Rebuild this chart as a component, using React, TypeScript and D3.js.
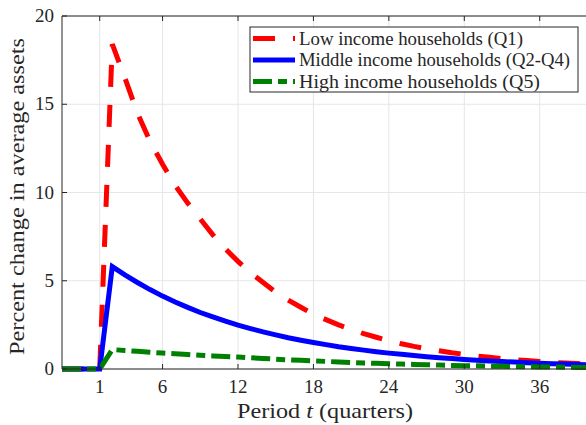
import React from "react";
import * as d3 from "d3";

// quarters -2 .. 40
const periods = d3.range(-2, 41);

const lowIncome = [
  0, 0, 0, 0,
  18.4, 16.5, 14.5, 12.9, 11.6, 10.4, 9.4, 8.5, 7.6, 6.8, 6.1,
  5.45, 4.9, 4.35, 3.9, 3.5, 3.1, 2.8, 2.5, 2.25, 2.0, 1.8, 1.6,
  1.43, 1.28, 1.15, 1.03, 0.92, 0.83, 0.74, 0.66, 0.59, 0.53, 0.48, 0.43,
  0.38, 0.34, 0.31, 0.28,
];

const middleIncome = [
  0, 0, 0, 0,
  5.8, 5.33, 4.9, 4.5, 4.13, 3.8, 3.49, 3.2, 2.95, 2.71, 2.49,
  2.29, 2.1, 1.93, 1.77, 1.63, 1.5, 1.38, 1.26, 1.16, 1.07, 0.98, 0.9,
  0.83, 0.76, 0.7, 0.64, 0.59, 0.54, 0.5, 0.46, 0.42, 0.39, 0.36, 0.33,
  0.3, 0.28, 0.25, 0.23,
];

const highIncome = [
  0, 0, 0, 0,
  1.1, 1.05, 1.0, 0.95, 0.9, 0.86, 0.82, 0.78, 0.74, 0.71, 0.68,
  0.64, 0.6, 0.56, 0.52, 0.49, 0.46, 0.43, 0.4, 0.37, 0.34, 0.32, 0.3,
  0.28, 0.26, 0.24, 0.22, 0.2, 0.19, 0.18, 0.16, 0.15, 0.14, 0.13, 0.12,
  0.11, 0.1, 0.09, 0.09,
];

const xTicks = [1, 6, 12, 18, 24, 30, 36];
const yTicks = [0, 5, 10, 15, 20];

const series = [
  { name: "Low income households (Q1)", values: lowIncome, color: "#ff0000", dash: "22 18", textW: 224 },
  { name: "Middle income households (Q2-Q4)", values: middleIncome, color: "#0000ff", dash: "none", textW: 271 },
  { name: "High income households (Q5)", values: highIncome, color: "#008000", dash: "19 6 9 6", textW: 241 },
];

const W = 586;
const H = 425;
const left = 62, right = 590, top = 16, bottom = 369;
const axisColor = "#262626";
const serif = { fontFamily: "Liberation Serif" };

export default function App() {
  const x = d3.scaleLinear().domain([-2, 40]).range([left, right]);
  const y = d3.scaleLinear().domain([0, 20]).range([bottom, top]);

  const line = (vals: number[]) =>
    d3.line<number>()
      .x((_, i) => x(periods[i]))
      .y(d => y(d))(vals) || "";

  return (
    <svg
      width={W}
      height={H}
      style={{ position: "absolute", left: 0, top: 0, background: "#fff" }}
    >
      <rect x={0} y={0} width={W} height={H} fill="#fff" />
      {/* grid */}
      {xTicks.map(t => (
        <line key={"gx" + t} x1={x(t)} x2={x(t)} y1={top} y2={bottom} stroke="#e6e6e6" strokeWidth={1} />
      ))}
      {yTicks.map(t => (
        <line key={"gy" + t} x1={left} x2={right} y1={y(t)} y2={y(t)} stroke="#e6e6e6" strokeWidth={1} />
      ))}

      {/* series */}
      {series.map(s => (
        <path
          key={s.name}
          d={line(s.values)}
          fill="none"
          stroke={s.color}
          strokeWidth={5}
          strokeDasharray={s.dash}
          strokeLinejoin="miter"
        />
      ))}

      {/* axes box */}
      <line x1={left} x2={right} y1={bottom} y2={bottom} stroke={axisColor} strokeWidth={1} />
      <line x1={left} x2={right} y1={top} y2={top} stroke={axisColor} strokeWidth={1} />
      <line x1={left} x2={left} y1={top} y2={bottom} stroke={axisColor} strokeWidth={1} />
      {xTicks.map(t => (
        <g key={"tx" + t}>
          <line x1={x(t)} x2={x(t)} y1={bottom} y2={bottom - 5} stroke={axisColor} />
          <line x1={x(t)} x2={x(t)} y1={top} y2={top + 5} stroke={axisColor} />
          <text x={x(t)} y={bottom + 24} textAnchor="middle" fontSize={19} fill={axisColor} style={serif}>{t}</text>
        </g>
      ))}
      {yTicks.map(t => (
        <g key={"ty" + t}>
          <line x1={left} x2={left + 5} y1={y(t)} y2={y(t)} stroke={axisColor} />
          <text x={left - 8} y={y(t) + 6} textAnchor="end" fontSize={19} fill={axisColor} style={serif}>{t}</text>
        </g>
      ))}

      {/* axis labels */}
      <text
        x={237} y={418} fontSize={22} fill={axisColor} style={serif}
        textLength={176} lengthAdjust="spacingAndGlyphs"
      >
        Period <tspan fontStyle="italic">t</tspan> (quarters)
      </text>
      <text
        transform={`translate(24, ${(top + bottom) / 2 + 4}) rotate(-90)`}
        textAnchor="middle"
        fontSize={22}
        fill={axisColor}
        style={serif}
        textLength={317}
        lengthAdjust="spacingAndGlyphs"
      >
        Percent change in average assets
      </text>

      {/* legend */}
      <rect x={250} y={27} width={328} height={65} fill="#fff" stroke={axisColor} strokeWidth={1} />
      {series.map((s, i) => {
        const ly = 38.5 + i * 21.5;
        return (
          <g key={"lg" + i}>
            <line x1={253} x2={295} y1={ly} y2={ly} stroke={s.color} strokeWidth={5} strokeDasharray={s.dash} />
            <text
              x={299} y={ly + 6} fontSize={18} fill={axisColor} style={serif}
              textLength={s.textW} lengthAdjust="spacingAndGlyphs"
            >
              {s.name}
            </text>
          </g>
        );
      })}
    </svg>
  );
}
